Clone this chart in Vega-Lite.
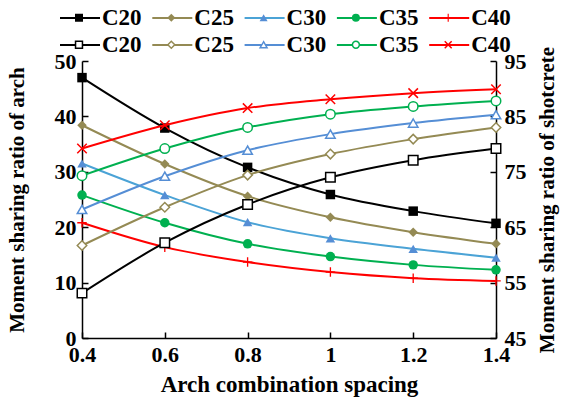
{
  "$schema": "https://vega.github.io/schema/vega-lite/v6.json",
  "width": 414,
  "height": 277,
  "autosize": "none",
  "padding": {"left": 82, "top": 61, "right": 69, "bottom": 68},
  "background": "white",
  "config": {
    "view": {"stroke": null},
    "font": "Liberation Serif",
    "axis": {
      "grid": false,
      "domainColor": "black",
      "domainWidth": 1.5,
      "tickColor": "black",
      "tickWidth": 1.5,
      "tickSize": -6,
      "labelFont": "Liberation Serif",
      "labelFontSize": 22,
      "labelFontWeight": "bold",
      "labelColor": "black",
      "labelFlush": false,
      "labelOverlap": false,
      "titleFont": "Liberation Serif",
      "titleFontSize": 21,
      "titleFontWeight": "bold",
      "titleColor": "black"
    },
    "legend": {
      "orient": "none",
      "direction": "horizontal",
      "columns": 5,
      "padding": 0,
      "rowPadding": 0,
      "labelFont": "Liberation Serif",
      "labelFontSize": 23,
      "labelFontWeight": "bold",
      "labelColor": "black"
    }
  },
  "data": {
    "values": [
      {"spacing": 0.4, "grade": "C20", "arch": 47.0, "shot": 53.1},
      {"spacing": 0.6, "grade": "C20", "arch": 37.9, "shot": 62.2},
      {"spacing": 0.8, "grade": "C20", "arch": 30.8, "shot": 69.1},
      {"spacing": 1.0, "grade": "C20", "arch": 25.9, "shot": 74.0},
      {"spacing": 1.2, "grade": "C20", "arch": 22.9, "shot": 77.1},
      {"spacing": 1.4, "grade": "C20", "arch": 20.7, "shot": 79.2},
      {"spacing": 0.4, "grade": "C25", "arch": 38.4, "shot": 61.7},
      {"spacing": 0.6, "grade": "C25", "arch": 31.4, "shot": 68.6},
      {"spacing": 0.8, "grade": "C25", "arch": 25.6, "shot": 74.4},
      {"spacing": 1.0, "grade": "C25", "arch": 21.8, "shot": 78.2},
      {"spacing": 1.2, "grade": "C25", "arch": 19.1, "shot": 80.9},
      {"spacing": 1.4, "grade": "C25", "arch": 17.0, "shot": 83.0},
      {"spacing": 0.4, "grade": "C30", "arch": 31.5, "shot": 68.2},
      {"spacing": 0.6, "grade": "C30", "arch": 25.8, "shot": 74.2},
      {"spacing": 0.8, "grade": "C30", "arch": 20.9, "shot": 78.9},
      {"spacing": 1.0, "grade": "C30", "arch": 18.0, "shot": 81.8},
      {"spacing": 1.2, "grade": "C30", "arch": 16.1, "shot": 83.8},
      {"spacing": 1.4, "grade": "C30", "arch": 14.5, "shot": 85.3},
      {"spacing": 0.4, "grade": "C35", "arch": 25.8, "shot": 74.3},
      {"spacing": 0.6, "grade": "C35", "arch": 20.8, "shot": 79.2},
      {"spacing": 0.8, "grade": "C35", "arch": 17.0, "shot": 83.0},
      {"spacing": 1.0, "grade": "C35", "arch": 14.7, "shot": 85.4},
      {"spacing": 1.2, "grade": "C35", "arch": 13.2, "shot": 86.8},
      {"spacing": 1.4, "grade": "C35", "arch": 12.3, "shot": 87.8},
      {"spacing": 0.4, "grade": "C40", "arch": 20.8, "shot": 79.2},
      {"spacing": 0.6, "grade": "C40", "arch": 16.4, "shot": 83.4},
      {"spacing": 0.8, "grade": "C40", "arch": 13.7, "shot": 86.5},
      {"spacing": 1.0, "grade": "C40", "arch": 11.9, "shot": 88.1},
      {"spacing": 1.2, "grade": "C40", "arch": 10.8, "shot": 89.2},
      {"spacing": 1.4, "grade": "C40", "arch": 10.3, "shot": 89.9}
    ]
  },
  "encoding": {
    "x": {
      "field": "spacing",
      "type": "quantitative",
      "scale": {"domain": [0.4, 1.4], "nice": false, "zero": false},
      "axis": {
        "values": [0.4, 0.6, 0.8, 1.0, 1.2, 1.4],
        "format": "~g",
        "title": "Arch combination spacing",
        "titleFontSize": 23,
        "labelPadding": 12,
        "titlePadding": 8
      }
    }
  },
  "layer": [
    {
      "encoding": {
        "y": {
          "field": "arch",
          "type": "quantitative",
          "scale": {"domain": [0, 50], "nice": false},
          "axis": {
            "orient": "left",
            "values": [0, 10, 20, 30, 40, 50],
            "title": "Moment sharing ratio of arch",
            "labelPadding": 12,
            "titlePadding": 27
          }
        }
      },
      "layer": [
        {
          "mark": {"type": "line", "interpolate": "monotone", "strokeWidth": 2},
          "encoding": {
            "stroke": {
              "field": "grade",
              "type": "nominal",
              "scale": {"domain": ["C20", "C25", "C30", "C35", "C40"], "range": ["black", "#948A54", "#4BA3D6", "#00B050", "#FF0000"]},
              "legend": {
                "legendX": -23, "legendY": -64, "title": null,
                "symbolType": "stroke", "symbolSize": 1600, "symbolStrokeWidth": 2,
                "labelOffset": 1, "columnPadding": 6.3
              }
            }
          }
        },
        {
          "mark": {"type": "point", "filled": true, "size": 90, "opacity": 1},
          "encoding": {
            "fill": {
              "field": "grade",
              "type": "nominal",
              "scale": {"range": ["black", "#948A54", "#558ED5", "#00B050", "#FF0000"]},
              "legend": {
                "legendX": -14.5, "legendY": -55, "title": null,
                "symbolSize": 64, "labelOffset": 0, "labelExpr": "''", "columnPadding": 69.3, "zindex": 1
              }
            },
            "shape": {
              "field": "grade",
              "type": "nominal",
              "scale": {"range": ["square", "diamond", "triangle-up", "circle", "M-1,-0.14H1V0.14H-1ZM-0.14,-1H0.14V1H-0.14Z"]},
              "legend": {
                "legendX": -14.5, "legendY": -55, "title": null,
                "symbolSize": 64, "labelOffset": 0, "labelExpr": "''", "columnPadding": 69.3, "zindex": 1
              }
            }
          }
        }
      ]
    },
    {
      "encoding": {
        "y": {
          "field": "shot",
          "type": "quantitative",
          "scale": {"domain": [45, 95], "nice": false, "zero": false},
          "axis": {
            "orient": "right",
            "values": [45, 55, 65, 75, 85, 95],
            "title": "Moment sharing ratio of  shotcrete",
            "titleAngle": 270,
            "titleBaseline": "top",
            "labelPadding": 14,
            "titlePadding": 10
          }
        }
      },
      "layer": [
        {
          "mark": {"type": "line", "interpolate": "monotone", "strokeWidth": 2},
          "encoding": {
            "stroke": {
              "field": "grade",
              "type": "nominal",
              "scale": {"domain": ["C20", "C25", "C30", "C35", "C40"], "range": ["black", "#948A54", "#558ED5", "#00B050", "#FF0000"]},
              "legend": {
                "legendX": -23, "legendY": -37, "title": null,
                "symbolType": "stroke", "symbolSize": 1600, "symbolStrokeWidth": 2,
                "labelOffset": 1, "columnPadding": 6.3
              }
            }
          }
        },
        {
          "mark": {"type": "point", "filled": false, "fill": "white", "size": 90, "opacity": 1, "strokeWidth": 1.5},
          "encoding": {
            "stroke": {
              "field": "grade",
              "type": "nominal",
              "scale": {"range": ["black", "#948A54", "#558ED5", "#00B050", "#FF0000"]},
              "legend": {
                "legendX": -14.5, "legendY": -28, "title": null,
                "symbolSize": 48, "symbolFillColor": "white", "symbolStrokeWidth": 1.5,
                "labelOffset": 0, "labelExpr": "''", "columnPadding": 69.3, "zindex": 1
              }
            },
            "shape": {
              "field": "grade",
              "type": "nominal",
              "scale": {"range": ["square", "diamond", "triangle-up", "circle", "M-1,-1L1,1M-1,1L1,-1"]},
              "legend": {
                "legendX": -14.5, "legendY": -28, "title": null,
                "symbolSize": 48, "symbolFillColor": "white", "symbolStrokeWidth": 1.5,
                "labelOffset": 0, "labelExpr": "''", "columnPadding": 69.3, "zindex": 1
              }
            }
          }
        }
      ],
      "resolve": {"scale": {"stroke": "independent", "shape": "independent"}}
    }
  ],
  "resolve": {"scale": {"y": "independent", "stroke": "independent", "fill": "independent", "shape": "independent"}}
}
